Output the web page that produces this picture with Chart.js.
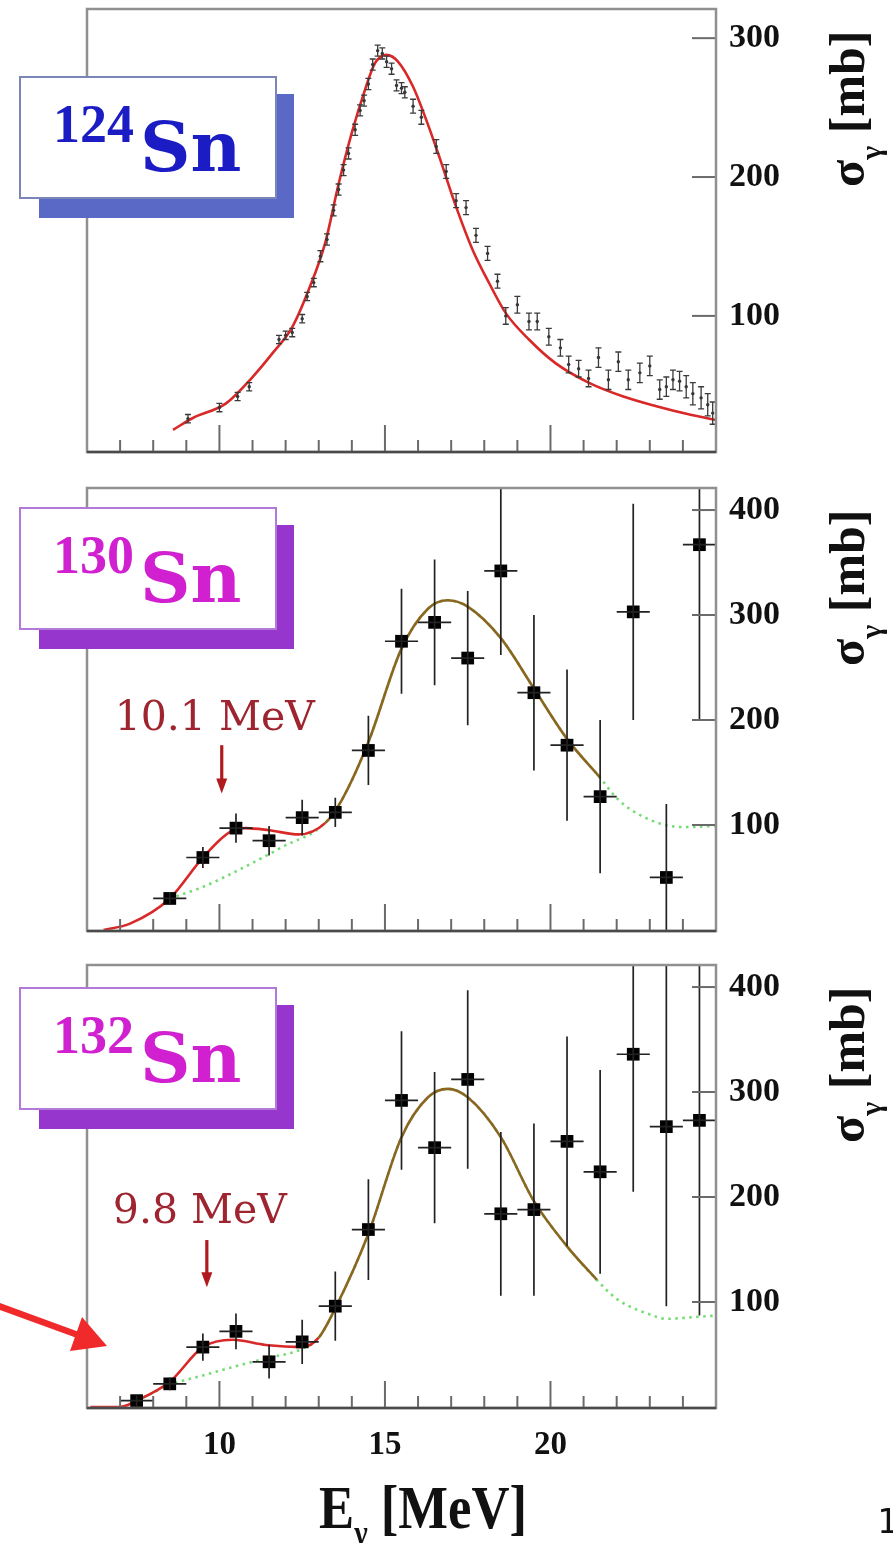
<!DOCTYPE html>
<html>
<head>
<meta charset="utf-8">
<title>Sn photo-absorption cross sections</title>
<script src="https://cdn.jsdelivr.net/npm/chart.js@4.4.1/dist/chart.umd.min.js"></script>
<style>
html,body{margin:0;padding:0;background:#fff}
body{position:relative;width:893px;height:1543px;overflow:hidden}
canvas{position:absolute;left:0}
</style>
</head>
<body>
<canvas id="p124" width="893" height="470" style="top:0px;width:893px;height:470px"></canvas>
<canvas id="p130" width="893" height="480" style="top:470px;width:893px;height:480px"></canvas>
<canvas id="p132" width="893" height="593" style="top:950px;width:893px;height:593px"></canvas>
<script>
// ---------------- data ----------------
const xTickValues = [7,8,9,10,11,12,13,14,15,16,17,18,19,20,21,22,23,24];
const xTickLabels = ['10','15','20'];
const yTicks124 = [100,200,300];
const yTicks13x = [100,200,300,400];

// 124Sn
const sn124E = [9.05,10.0,10.55,10.9,11.8,12.0,12.2,12.5,12.65,12.85,13.05,13.25,13.45,13.6,13.75,13.9,14.1,14.25,14.37,14.5,14.63,14.78,14.92,15.05,15.2,15.35,15.5,15.6,15.85,16.1,16.55,16.85,17.15,17.45,17.75,18.1,18.4,18.65,19.0,19.35,19.6,19.95,20.3,20.55,20.85,21.15,21.45,21.75,22.05,22.35,22.7,23.0,23.3,23.5,23.7,23.9,24.1,24.3,24.55,24.75,24.9];
const sn124Y = [26,34,42,49,83,86,88,98,114,124,143,155,176,191,205,217,234,248,255,267,281,291,289,283,278,266,264,261,251,243,222,204,183,178,158,145,125,100,108,96,96,85,77,65,62,55,70,54,67,54,59,64,47,49,54,53,49,44,41,36,30];
const sn124Err = [3,3,3,3,3,3,3,3,3,3, 4,4,4,4,4,4,4,4,4,4, 4,4,4,4,4,4,4,4, 5,5,5,5,5,5,5,5,5, 6,6,6,6,6,6,6,6,6, 7,7,7,7,7,7,7,7,7,7, 8,8,8,8,8];
const sn124FitE = [8.6,9.2,10.2,11.0,11.6,12.2,12.7,13.2,13.6,14.0,14.4,14.7,15.05,15.4,15.85,16.25,16.65,17.15,17.65,18.15,18.65,19.35,20.15,21.15,22.2,23.2,24.2,25.0];
const sn124FitY = [18,26.5,37,56,73,92,119,153,195,232,263,282,288,283,265,241,214,178.5,147.5,123.5,102,83,66,52,42,35,29,25];

// 130Sn
const sn130E = [8.5,9.5,10.5,11.5,12.5,13.5,14.5,15.5,16.5,17.5,18.5,19.5,20.5,21.5,22.5,23.5,24.5];
const sn130Y = [30,69,97,85,107,112,171,275,293,259,342,226,176,127,303,50,367];
const sn130Err = [6,10,14,14,17,14,33,50,60,64,80,74,72,73,103,70,168];
const sn130FitE = [6.5,7.3,8.5,9.5,10.3,10.8,11.5,12.4,13.2,13.7,14.5,15.5,16.3,16.9,17.5,18.5,19.5,20.5,21.5];
const sn130FitY = [0,6,30,69,93,97,95,91,102,124,179,268,306,314,308,278,230,182,145];
const sn130GdrE = [8.5,9.5,10.7,11.9,13.2,13.7,14.5,15.5,16.3,16.9,17.5,18.5,19.5,20.5,21.5,22.05,23.0,24.0,25.0];
const sn130GdrY = [30,41,59,79,102,124,179,268,306,314,308,278,230,182,145,124,105,98,99];

// 132Sn
const sn132E = [7.5,8.5,9.5,10.5,11.5,12.5,13.5,14.5,15.5,16.5,17.5,18.5,19.5,20.5,21.5,22.5,23.5,24.5];
const sn132Y = [6,22,57,72,43,62,96,169,292,247,312,184,188,253,224,336,267,273];
const sn132Err = [5,6,13,17,16,21,33,48,66,72,85,78,82,100,97,131,171,186];
const sn132FitE = [6.1,7.0,7.5,8.5,9.5,10.4,11.4,12.5,13.0,13.5,14.5,15.5,16.3,16.9,17.5,18.5,19.5,20.5,21.4];
const sn132FitY = [0,0,6,24,57,64,59,57,66,94,165,257,295,303,295,257,196,153,121];
const sn132GdrE = [7.7,8.5,9.5,10.4,11.5,12.4,13.0,13.5,14.5,15.5,16.3,16.9,17.5,18.5,19.5,20.5,21.4,22.0,23.1,23.5,24.5,25.0];
const sn132GdrY = [9,21,30,38,47,54,66,94,165,257,295,303,295,257,196,153,121,103,87,84,86,87];

// pygmy-peak annotations: arrow energy, arrow tail / tip and text baseline (mb)
const ann130 = {label: '10.1 MeV', e: 10.07, tail: 176, tip: 130, textY: 190};
const ann132 = {label: '9.8 MeV', e: 9.62, tail: 159, tip: 114, textY: 175};

// ---------------- helpers ----------------
function pts(xs, ys) { return xs.map((x, i) => ({x: x, y: ys[i]})); }

function line(ctx, x1, y1, x2, y2) { ctx.beginPath(); ctx.moveTo(x1, y1); ctx.lineTo(x2, y2); ctx.stroke(); }

function drawParts(ctx, parts, x0, y0) {
  let cx = x0;
  parts.forEach(p => {
    ctx.font = p.font;
    ctx.fillText(p.t, cx, y0 + (p.dy || 0));
    cx += ctx.measureText(p.t).width;
  });
}
function partsWidth(ctx, parts) {
  let w = 0;
  parts.forEach(p => { ctx.font = p.font; w += ctx.measureText(p.t).width; });
  return w;
}

function decorPlugin(cfg) {
  return {
    id: 'decor',
    afterDatasetsDraw(chart) {
      const ctx = chart.ctx, a = chart.chartArea, x = chart.scales.x, y = chart.scales.y;
      ctx.save();
      ctx.beginPath(); ctx.rect(a.left, a.top, a.right - a.left, a.bottom - a.top); ctx.clip();
      ctx.strokeStyle = cfg.errColor; ctx.lineWidth = cfg.errWidth;
      cfg.dataE.forEach((e, i) => {
        const v = cfg.dataY[i], s = cfg.dataErr[i];
        const px = x.getPixelForValue(e);
        const y1 = y.getPixelForValue(v - s), y2 = y.getPixelForValue(v + s);
        ctx.beginPath();
        ctx.moveTo(px, y1); ctx.lineTo(px, y2);
        if (cfg.binHalf) {
          const py = y.getPixelForValue(v);
          ctx.moveTo(x.getPixelForValue(e - cfg.binHalf), py);
          ctx.lineTo(x.getPixelForValue(e + cfg.binHalf), py);
        }
        if (cfg.cap) {
          ctx.moveTo(px - cfg.cap, y1); ctx.lineTo(px + cfg.cap, y1);
          ctx.moveTo(px - cfg.cap, y2); ctx.lineTo(px + cfg.cap, y2);
        }
        ctx.stroke();
      });
      ctx.restore();
    },
    afterDraw(chart) {
      const ctx = chart.ctx, a = chart.chartArea, x = chart.scales.x, y = chart.scales.y;
      ctx.save();
      // inward tick marks
      ctx.strokeStyle = '#6a6a6a'; ctx.lineWidth = 2;
      x.ticks.forEach(t => {
        const px = x.getPixelForValue(t.value);
        line(ctx, px, a.bottom, px, a.bottom - (t.value % 5 === 0 ? 27 : 12));
      });
      y.ticks.forEach(t => {
        const py = y.getPixelForValue(t.value);
        line(ctx, a.right, py, a.right - 24, py);
      });
      // frame
      ctx.strokeStyle = '#909090'; ctx.lineWidth = 2.5;
      ctx.strokeRect(a.left, a.top, a.right - a.left, a.bottom - a.top);
      ctx.strokeStyle = '#4a4a4a';
      line(ctx, a.left, a.bottom, a.right, a.bottom);

      // y-axis title  sigma_gamma [mb]
      ctx.save();
      ctx.fillStyle = '#111'; ctx.textAlign = 'left'; ctx.textBaseline = 'alphabetic';
      ctx.translate(864, a.top + 178);
      ctx.rotate(-Math.PI / 2);
      drawParts(ctx, [
        {t: 'σ', font: 'bold 50px "Liberation Serif"'},
        {t: 'γ', font: 'bold 30px "Liberation Serif"', dy: 17},
        {t: ' [mb]', font: 'bold 50px "Liberation Serif"'}
      ], 0, 0);
      ctx.restore();

      // nucleus label box
      const b = cfg.box;
      ctx.fillStyle = b.shadow;
      ctx.fillRect(39, b.top + 17, 255, 124);
      ctx.fillStyle = '#ffffff';
      ctx.fillRect(20, b.top, 256, 121);
      ctx.strokeStyle = b.border; ctx.lineWidth = 2;
      ctx.strokeRect(20, b.top, 256, 121);
      ctx.fillStyle = b.color; ctx.textAlign = 'left'; ctx.textBaseline = 'alphabetic';
      ctx.font = 'bold 54px "Liberation Serif"';
      ctx.fillText(b.mass, 53, b.top + 65);
      const mw = ctx.measureText(b.mass).width;
      ctx.font = 'bold 70px "DejaVu Serif"';
      ctx.fillText('Sn', 53 + mw + 6, b.top + 94);

      // pygmy annotation
      if (cfg.ann) {
        const an = cfg.ann;
        const ax = x.getPixelForValue(an.e);
        const yt = y.getPixelForValue(an.tail), yp = y.getPixelForValue(an.tip);
        ctx.strokeStyle = '#b01a1e'; ctx.fillStyle = '#b01a1e'; ctx.lineWidth = 3.2;
        line(ctx, ax, yt, ax, yp - 10);
        ctx.beginPath(); ctx.moveTo(ax - 5.5, yp - 15); ctx.lineTo(ax + 5.5, yp - 15); ctx.lineTo(ax, yp); ctx.closePath(); ctx.fill();
        ctx.fillStyle = '#9e2530'; ctx.textAlign = 'center';
        ctx.font = '41px "DejaVu Serif"';
        ctx.fillText(an.label, ax - 7, y.getPixelForValue(an.textY));
      }

      if (cfg.bottom) {
        // x-axis title  E_gamma [MeV]
        const parts = [
          {t: 'E', font: 'bold 62px "Liberation Serif"'},
          {t: 'γ', font: 'bold 34px "Liberation Serif"', dy: 16},
          {t: ' [MeV]', font: 'bold 62px "Liberation Serif"'}
        ];
        ctx.save();
        ctx.fillStyle = '#111'; ctx.textAlign = 'left'; ctx.textBaseline = 'alphabetic';
        const w = partsWidth(ctx, parts);
        ctx.translate(319, 578);
        ctx.scale(208 / w, 1);
        drawParts(ctx, parts, 0, 0);
        ctx.restore();

        // red pointer arrow at the left
        ctx.strokeStyle = '#f02a2a'; ctx.fillStyle = '#f02a2a'; ctx.lineWidth = 6.5; ctx.lineCap = 'butt';
        line(ctx, -4, 355, 78, 385);
        ctx.beginPath(); ctx.moveTo(107, 396); ctx.lineTo(70, 401); ctx.lineTo(82, 367); ctx.closePath(); ctx.fill();

        // page number fragment
        ctx.fillStyle = '#111'; ctx.textAlign = 'left';
        ctx.font = '34px "DejaVu Sans Mono"';
        ctx.fillText('1', 877, 583);
      }
      ctx.restore();
    }
  };
}

function makeChart(id, cfg) {
  const datasets = [
    {label: 'data', data: pts(cfg.dataE, cfg.dataY), showLine: false,
     pointStyle: cfg.pointStyle, pointRadius: cfg.pointRadius,
     backgroundColor: cfg.pointColor, borderColor: cfg.pointColor, borderWidth: 0, order: 0},
    {label: 'fit', data: pts(cfg.fitE, cfg.fitY), showLine: true, pointRadius: 0,
     borderColor: '#d82828', borderWidth: 2.6, cubicInterpolationMode: 'monotone', fill: false, order: 1,
     segment: {borderColor: c => (cfg.overlapFrom != null && c.p0.parsed.x >= cfg.overlapFrom - 1e-9) ? '#8a6620' : '#d82828'}}
  ];
  if (cfg.gdrE) {
    datasets.push({label: 'gdr', data: pts(cfg.gdrE, cfg.gdrY), showLine: true, pointRadius: 0,
      borderColor: '#74dc74', borderWidth: 2.6, borderDash: [2.5, 4.5], cubicInterpolationMode: 'monotone', fill: false, order: 2});
  }
  return new Chart(document.getElementById(id), {
    type: 'scatter',
    data: {datasets: datasets},
    options: {
      responsive: false, animation: false, events: [],
      layout: {padding: {left: 87, top: cfg.padTop, right: 0, bottom: 0}},
      plugins: {legend: {display: false}, tooltip: {enabled: false}},
      scales: {
        x: {
          type: 'linear', position: 'bottom', min: 6, max: 25,
          grid: {display: false, drawTicks: false}, border: {display: false},
          afterBuildTicks: s => { s.ticks = xTickValues.map(v => ({value: v})); },
          ticks: {display: cfg.showXLabels, autoSkip: false, maxRotation: 0, minRotation: 0, padding: 18,
                  color: '#111', font: {family: 'Liberation Serif', weight: 'bold', size: 33},
                  callback: v => xTickLabels.includes(String(v)) ? String(v) : ''},
          afterFit: s => { s.height = cfg.xAxisH; s.paddingLeft = 0; s.paddingRight = 0; }
        },
        y: {
          type: 'linear', position: 'right', min: cfg.yMin, max: cfg.yMax,
          grid: {display: false, drawTicks: false}, border: {display: false},
          afterBuildTicks: s => { s.ticks = cfg.yTicks.map(v => ({value: v})); },
          ticks: {autoSkip: false, padding: 13, color: '#111',
                  font: {family: 'Liberation Serif', weight: 'bold', size: 34},
                  callback: v => String(v)},
          afterFit: s => { s.width = 177; s.paddingTop = 0; s.paddingBottom = 0; }
        }
      }
    },
    plugins: [decorPlugin(cfg)]
  });
}

makeChart('p124', {
  dataE: sn124E, dataY: sn124Y, dataErr: sn124Err, fitE: sn124FitE, fitY: sn124FitY,
  pointStyle: 'circle', pointRadius: 1.7, pointColor: '#333', errColor: '#3a3a3a', errWidth: 1.3, cap: 3,
  padTop: 9, xAxisH: 18, showXLabels: false, yMin: 2, yMax: 321, yTicks: yTicks124,
  box: {top: 77, mass: '124', color: '#1c1cc4', shadow: '#5a68c6', border: '#7a86b8'}
});
makeChart('p130', {
  dataE: sn130E, dataY: sn130Y, dataErr: sn130Err, fitE: sn130FitE, fitY: sn130FitY,
  gdrE: sn130GdrE, gdrY: sn130GdrY, overlapFrom: 13.2,
  pointStyle: 'rect', pointRadius: 9, pointColor: '#000', errColor: '#222', errWidth: 1.7, binHalf: 0.5,
  padTop: 18, xAxisH: 19, showXLabels: false, yMin: -1, yMax: 421, yTicks: yTicks13x,
  box: {top: 38, mass: '130', color: '#d020d0', shadow: '#9636cc', border: '#b27ad8'},
  ann: ann130
});
makeChart('p132', {
  dataE: sn132E, dataY: sn132Y, dataErr: sn132Err, fitE: sn132FitE, fitY: sn132FitY,
  gdrE: sn132GdrE, gdrY: sn132GdrY, overlapFrom: 13.0,
  pointStyle: 'rect', pointRadius: 9, pointColor: '#000', errColor: '#222', errWidth: 1.7, binHalf: 0.5,
  padTop: 15, xAxisH: 135, showXLabels: true, yMin: -1, yMax: 421, yTicks: yTicks13x,
  box: {top: 38, mass: '132', color: '#d020d0', shadow: '#9636cc', border: '#b27ad8'},
  ann: ann132, bottom: true
});
</script>
</body>
</html>
